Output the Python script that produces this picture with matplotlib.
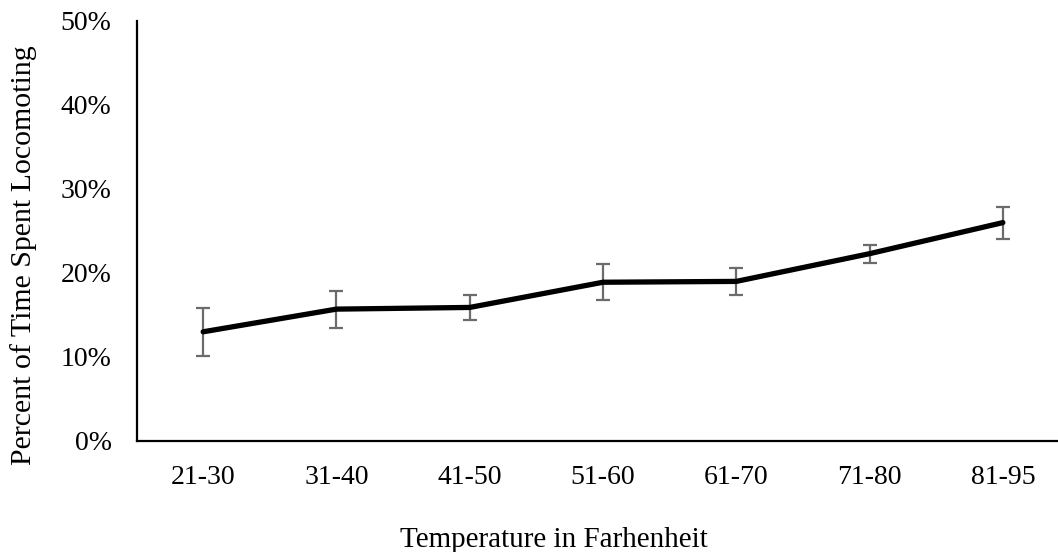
import matplotlib
matplotlib.use("Agg")
import matplotlib.pyplot as plt
from matplotlib.ticker import FuncFormatter

categories = ["21-30", "31-40", "41-50", "51-60", "61-70", "71-80", "81-95"]
values = [13.0, 15.7, 15.9, 18.9, 19.0, 22.3, 26.0]
errors = [2.85, 2.2, 1.5, 2.15, 1.6, 1.05, 1.9]
y_ticks = [0, 10, 20, 30, 40, 50]

fig = plt.figure(figsize=(10.58, 5.52), dpi=100)
ax = fig.add_axes([136.5 / 1058, 1 - 441 / 552, 933 / 1058, 420 / 552])

x = list(range(len(categories)))
ax.errorbar(x, values, yerr=errors, color="black", lw=3.8, ecolor="#6b6b6b",
            elinewidth=1.6, capsize=5, capthick=1.6, zorder=3,
            solid_capstyle="round", solid_joinstyle="round")

ax.set_xlim(-0.5, len(categories) - 0.5)
ax.set_ylim(0, 50)
ax.set_yticks(y_ticks)
ax.yaxis.set_major_formatter(FuncFormatter(lambda v, p: f"{v:.0f}%"))
ax.set_xticks(x)
ax.set_xticklabels(categories)

for s in ["top", "right"]:
    ax.spines[s].set_visible(False)
for s in ["left", "bottom"]:
    ax.spines[s].set_linewidth(1.6)
    ax.spines[s].set_color("black")

font = "Liberation Serif"
ax.tick_params(axis="both", length=0)
ax.tick_params(axis="y", pad=18)
ax.tick_params(axis="x", pad=17)
for lab in ax.get_yticklabels():
    lab.set_fontfamily(font)
    lab.set_fontsize(20)
for lab in ax.get_xticklabels():
    lab.set_fontfamily(font)
    lab.set_fontsize(20)

fig.text(24 / 1058, 1 - 255 / 552, "Percent of Time Spent Locomoting",
         rotation=90, ha="center", va="center", family=font, fontsize=21.5)
fig.text(554 / 1058, 1 - 547 / 552, "Temperature in Farhenheit",
         ha="center", va="baseline", family=font, fontsize=21)

fig.savefig("out.png", dpi=100)
